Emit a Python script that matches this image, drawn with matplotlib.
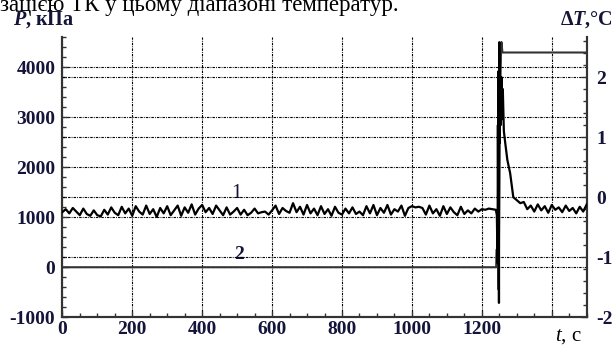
import numpy as np
import matplotlib
matplotlib.use("Agg")
import matplotlib.pyplot as plt
from matplotlib.ticker import MultipleLocator

plt.rcParams["font.family"] = ["Liberation Serif", "DejaVu Serif"]
plt.rcParams["axes.unicode_minus"] = False
plt.rcParams["mathtext.fontset"] = "custom"
plt.rcParams["mathtext.it"] = "Liberation Serif:italic:bold"
plt.rcParams["mathtext.sf"] = "Liberation Serif:italic"
plt.rcParams["mathtext.rm"] = "Liberation Serif:bold"

# curve 2: pressure P, kPa (left axis)
p_time = [0, 1241, 1242, 1246, 1248, 1252, 1256, 1259, 1500]
p_vals = [0, 0, 350, 350, -450, 3700, 4500, 4290, 4290]

# curve 1: temperature difference dT, C (right axis), sampled every 10 s before the event
t_base_time = np.arange(0, 1250, 10)
t_base_vals = [
    -0.25, -0.20, -0.27, -0.18, -0.24, -0.30, -0.19, -0.28, -0.31, -0.22,
    -0.30, -0.32, -0.21, -0.29, -0.17, -0.26, -0.30, -0.16, -0.27, -0.19,
    -0.31, -0.15, -0.24, -0.29, -0.14, -0.28, -0.20, -0.33, -0.18, -0.27,
    -0.15, -0.30, -0.22, -0.14, -0.31, -0.17, -0.26, -0.12, -0.29, -0.19,
    -0.13, -0.25, -0.18, -0.28, -0.14, -0.22, -0.30, -0.17, -0.29, -0.24,
    -0.18, -0.29, -0.21, -0.30, -0.26, -0.19, -0.27, -0.25, -0.24, -0.29,
    -0.22, -0.14, -0.28, -0.18, -0.23, -0.26, -0.10, -0.25, -0.16, -0.29,
    -0.13, -0.27, -0.19, -0.30, -0.15, -0.28, -0.20, -0.31, -0.16, -0.26,
    -0.29, -0.19, -0.27, -0.17, -0.28, -0.24, -0.30, -0.15, -0.27, -0.13,
    -0.30, -0.18, -0.26, -0.13, -0.29, -0.20, -0.24, -0.14, -0.31, -0.18,
    -0.15, -0.17, -0.16, -0.18, -0.29, -0.14, -0.27, -0.20, -0.31, -0.15,
    -0.28, -0.17, -0.25, -0.30, -0.16, -0.28, -0.22, -0.27, -0.19, -0.24,
    -0.20, -0.21, -0.19, -0.20, -0.21,
]
# the burst around 1245-1290 s
t_spike_time = [1243, 1245, 1246, 1247, 1248, 1249, 1250, 1251, 1252, 1254,
                1256, 1258, 1260, 1263, 1267, 1273, 1281, 1290]
t_spike_vals = [-0.30, -1.10, 1.20, -0.50, 2.10, -1.76, 2.58, 0.90, 2.30, 1.20,
                2.00, 1.30, 1.80, 1.10, 0.90, 0.62, 0.40, 0.00]
# after the event
t_tail_time = np.arange(1300, 1510, 10)
t_tail_vals = [-0.05, -0.10, -0.08, -0.20, -0.14, -0.24, -0.12, -0.22, -0.15, -0.26,
               -0.13, -0.21, -0.17, -0.25, -0.14, -0.23, -0.18, -0.27, -0.16, -0.24,
               -0.12]

t_time = np.concatenate([t_base_time, t_spike_time, t_tail_time])
t_vals = np.concatenate([t_base_vals, t_spike_vals, t_tail_vals])

x_ticks = [0, 200, 400, 600, 800, 1000, 1200, 1400]
x_labels = ["0", "200", "400", "600", "800", "1000", "1200", ""]
p_ticks = [-1000, 0, 1000, 2000, 3000, 4000]
dt_ticks = [-2, -1, 0, 1, 2]

navy = "#14143a"
grid_style = dict(color="black", lw=0.8, ls=(0, (2.2, 1.0, 0.8, 1.0)))

fig = plt.figure(figsize=(6.15, 3.45), dpi=100)
ax = fig.add_axes([0.1013, 0.0803, 0.8527, 0.8125])
ax2 = ax.twinx()

ax.set_xlim(0, 1500)
ax.set_ylim(-1000, 4600)
ax2.set_ylim(-2, 2.667)

ax.set_xticks(x_ticks)
ax.set_xticklabels(x_labels)
ax.xaxis.set_minor_locator(MultipleLocator(50))
ax.set_yticks(p_ticks)
ax.yaxis.set_minor_locator(MultipleLocator(200))
ax2.set_yticks(dt_ticks)
ax2.yaxis.set_minor_locator(MultipleLocator(0.2))

for a in (ax, ax2):
    a.tick_params(which="both", direction="in", width=1, colors="#333333",
                  labelcolor=navy, labelsize=14)
    a.tick_params(which="major", length=4)
    a.tick_params(which="minor", length=3)
    for lab in a.get_xticklabels() + a.get_yticklabels():
        lab.set_fontweight("bold")
    a.spines["top"].set_visible(False)
    for s in ("left", "right", "bottom"):
        a.spines[s].set_linewidth(1.5)
        a.spines[s].set_color("#333333")
ax.tick_params(axis="y", pad=5)
ax.tick_params(axis="x", pad=3)
ax2.tick_params(axis="y", pad=7)

ax.grid(True, which="major", **grid_style)
ax2.grid(True, which="major", axis="y", **grid_style)
ax.set_axisbelow(True)

ax.plot(p_time, p_vals, color="#333333", lw=1.5, zorder=3)
ax2.plot(t_time, t_vals, color="black", lw=1.6, zorder=3)

ax.text(497, 1480, "1", fontsize=15, color=navy, ha="center", va="center",
        bbox=dict(fc="white", ec="none", pad=0.5), zorder=4)
ax.text(505, 260, "2", fontsize=14, fontweight="bold", color=navy,
        ha="center", va="center", bbox=dict(fc="white", ec="none", pad=0.5), zorder=4)

fig.text(13 / 615, 1 - 25 / 345, "$P$, кПа", fontsize=14.5, fontweight="bold",
         color=navy, ha="left", va="baseline")
fig.text(613 / 615, 1 - 25 / 345, "Δ$T$,°C", fontsize=14.5, fontweight="bold",
         color=navy, ha="right", va="baseline")
fig.text(555 / 615, 1 - 341 / 345, r"$\mathsf{t}$, с", fontsize=15,
         color="black", ha="left", va="baseline")
fig.text(0.0, 1 - 11 / 345, "зацією ТК у цьому діапазоні температур.",
         fontsize=16.5, color="black", ha="left", va="baseline")

fig.savefig("out.png", dpi=100)
